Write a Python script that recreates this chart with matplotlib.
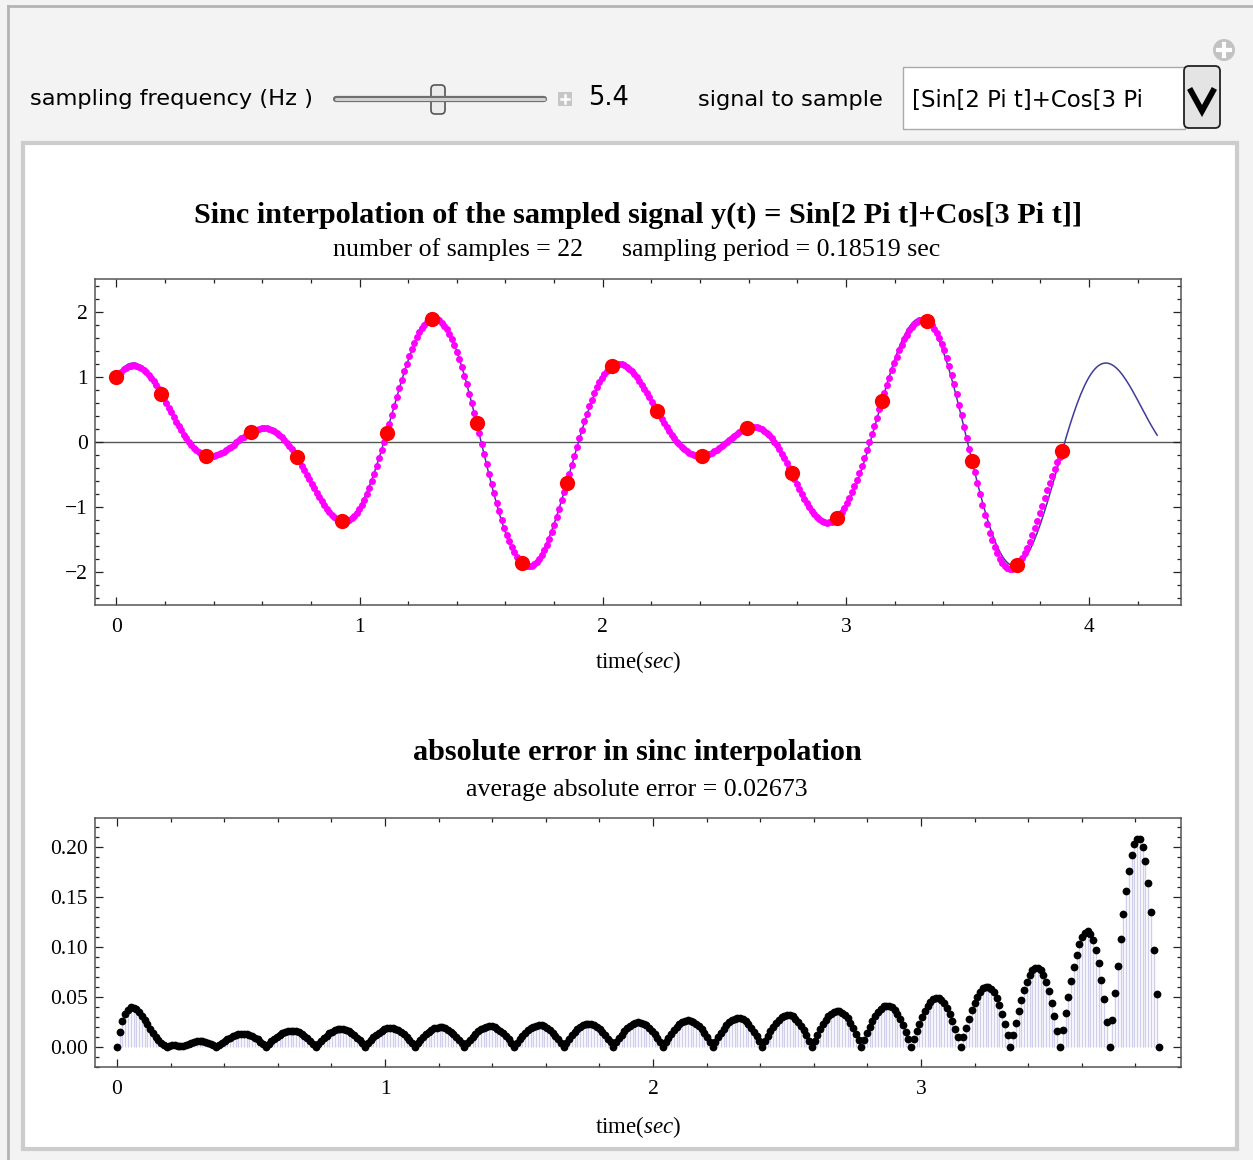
"""Sinc interpolation demo panel: sampled signal, its sinc reconstruction and
the absolute reconstruction error. Saves out.png.
"""

import matplotlib

matplotlib.use("Agg")
import matplotlib.pyplot as plt
import numpy as np
from matplotlib.patches import Circle, FancyBboxPatch, Rectangle
from matplotlib.ticker import MultipleLocator

plt.rcParams["mathtext.fontset"] = "custom"
plt.rcParams["mathtext.it"] = "Liberation Serif:italic"
plt.rcParams["mathtext.rm"] = "Liberation Serif"

W, H = 1253, 1160

# panel settings shown in the controls / titles
SAMPLING_HZ = 5.4
N_SAMPLES = 22
SIGNAL_LABEL = "Sin[2 Pi t]+Cos[3 Pi t]"
SIGNAL_MENU_TEXT = "[Sin[2 Pi t]+Cos[3 Pi"
AVG_ABS_ERROR = 0.02673  # as printed under the error plot
T_END = 4.28             # true signal is drawn on [0, T_END]
DOTS_PER_PERIOD = 18     # evaluation points of the reconstruction per sampling period

TOP_YTICKS = [-2, -1, 0, 1, 2]
TOP_XTICKS = [0, 1, 2, 3, 4]
BOT_YTICKS = [0.00, 0.05, 0.10, 0.15, 0.20]
BOT_XTICKS = [0, 1, 2, 3]

SERIF = "Liberation Serif"
SANS = "DejaVu Sans"


def signal(t):
    # y(t) = Sin[2 Pi t] + Cos[3 Pi t], as given in the chart title
    return np.sin(2 * np.pi * t) + np.cos(3 * np.pi * t)


period = 1.0 / SAMPLING_HZ
t_samp = np.arange(N_SAMPLES) * period
y_samp = signal(t_samp)

t_dots = np.arange(0, (N_SAMPLES - 1) * DOTS_PER_PERIOD + 1) * period / DOTS_PER_PERIOD
y_interp = (y_samp[None, :] * np.sinc((t_dots[:, None] - t_samp[None, :]) / period)).sum(axis=1)
abs_err = np.abs(signal(t_dots) - y_interp)

t_true = np.linspace(0, T_END, 600)
y_true = signal(t_true)


def px_axes(fig, left, top, right, bottom):
    return fig.add_axes([left / W, 1 - bottom / H, (right - left) / W, (bottom - top) / H])


def style_frame(ax, xmajor, xminor, ymajor, yminor):
    ax.xaxis.set_major_locator(MultipleLocator(xmajor))
    ax.xaxis.set_minor_locator(MultipleLocator(xminor))
    ax.yaxis.set_major_locator(MultipleLocator(ymajor))
    ax.yaxis.set_minor_locator(MultipleLocator(yminor))
    ax.tick_params(which="both", direction="in", top=True, right=True, color="#222222",
                   labelsize=15.5, width=0.9)
    ax.tick_params(which="major", length=5.5)
    ax.tick_params(which="minor", length=3)
    ax.tick_params(axis="x", pad=9)
    ax.tick_params(axis="y", pad=5)
    for sp in ax.spines.values():
        sp.set_color("#555555")
        sp.set_linewidth(1.1)


fig = plt.figure(figsize=(W / 100, H / 100), dpi=100)
fig.patch.set_facecolor("#f3f3f3")

# ---- control bar + panel frame, drawn in pixel coordinates ----
ui = fig.add_axes([0, 0, 1, 1], zorder=-5)
ui.set_xlim(0, W)
ui.set_ylim(H, 0)
ui.axis("off")
ui.plot([8, W], [6, 6], color="#b4b4b4", lw=2)
ui.plot([8, 8], [6, H], color="#b4b4b4", lw=2)
ui.add_patch(Rectangle((23, 143), 1214, 1006, facecolor="white", edgecolor="#cccccc", lw=3))

ui.text(30, 99, "sampling frequency (Hz )", family=SANS, fontsize=16.2, va="center", ha="left")
ui.plot([336, 544], [99, 99], color="#6e6e6e", lw=4.5, solid_capstyle="round")
ui.plot([336, 544], [99, 99], color="#d0d0d0", lw=2.2, solid_capstyle="round")
ui.add_patch(FancyBboxPatch((431, 85), 14, 29, boxstyle="round,pad=0,rounding_size=4",
                            facecolor="#ececec", edgecolor="#555555", lw=1.2))
ui.add_patch(Rectangle((558, 92), 14, 14, facecolor="#c6c6c6", edgecolor="none"))
ui.plot([561, 569], [99, 99], color="white", lw=1.8)
ui.plot([565, 565], [95, 103], color="white", lw=1.8)
ui.text(588, 98, f"{SAMPLING_HZ}", family=SANS, fontsize=18.5, va="center", ha="left")

ui.text(698, 100, "signal to sample", family=SANS, fontsize=16.2, va="center", ha="left")
ui.add_patch(Rectangle((903, 67), 282, 62, facecolor="white", edgecolor="#aaaaaa", lw=1))
ui.text(912, 100, SIGNAL_MENU_TEXT, family=SANS, fontsize=16.5, va="center", ha="left")
ui.add_patch(FancyBboxPatch((1184, 66), 36, 62, boxstyle="round,pad=0,rounding_size=5",
                            facecolor="#e4e4e4", edgecolor="#222222", lw=1.3))
ui.plot([1191, 1202, 1213], [91, 111, 91], color="black", lw=4.2, solid_joinstyle="miter")
ui.add_patch(Circle((1224, 50), 11, facecolor="#c2c2c2", edgecolor="none"))
ui.plot([1218, 1230], [50, 50], color="white", lw=3)
ui.plot([1224, 1224], [44, 56], color="white", lw=3)

# ---- top plot: samples, sinc reconstruction, true signal ----
ax1 = px_axes(fig, 95, 279, 1181, 605)
ax1.axhline(0, color="#555555", lw=1, zorder=1)
ax1.plot(t_true, y_true, color="#3d3d99", lw=1.1, zorder=2)
ax1.plot(t_dots, y_interp, "o", color="#ff00ff", ms=5, mec="none", zorder=3)
ax1.plot(t_samp, y_samp, "o", color="#ff0000", ms=11, mec="none", zorder=4)
ax1.set_xlim(-0.088, 4.378)
ax1.set_ylim(-2.51, 2.51)
style_frame(ax1, 1, 0.2, 1, 0.2)
ax1.set_xticks(TOP_XTICKS)
ax1.set_yticks(TOP_YTICKS)
ax1.set_xticklabels([str(v) for v in TOP_XTICKS], fontfamily=SERIF)
ax1.set_yticklabels([str(v).replace("-", "\u2212") for v in TOP_YTICKS], fontfamily=SERIF)

fig.text(638 / W, 1 - 215 / H,
         f"Sinc interpolation of the sampled signal y(t) = {SIGNAL_LABEL}]",
         family=SERIF, weight="bold", fontsize=21.8, ha="center", va="center")
fig.text(637 / W, 1 - 250 / H,
         f"number of samples = {N_SAMPLES}      sampling period = {period:.5f} sec",
         family=SERIF, fontsize=18.6, ha="center", va="center")
fig.text(638 / W, 1 - 662 / H, "time($\\mathit{sec}$)", family=SERIF, fontsize=16.5,
         ha="center", va="center")

# ---- bottom plot: absolute error ----
ax2 = px_axes(fig, 95, 818, 1181, 1067)
ax2.vlines(t_dots, 0, abs_err, color="#cfcfec", lw=1.0, zorder=1)
ax2.plot(t_dots, abs_err, "o", color="black", ms=5.6, mec="none", zorder=3)
ax2.set_xlim(-0.082, 3.97)
ax2.set_ylim(-0.0205, 0.229)
style_frame(ax2, 1, 0.2, 0.05, 0.01)
ax2.set_xticks(BOT_XTICKS)
ax2.set_yticks(BOT_YTICKS)
ax2.set_xticklabels([str(v) for v in BOT_XTICKS], fontfamily=SERIF)
ax2.set_yticklabels([f"{v:.2f}" for v in BOT_YTICKS], fontfamily=SERIF)

fig.text(637 / W, 1 - 753 / H, "absolute error in sinc interpolation",
         family=SERIF, weight="bold", fontsize=21.8, ha="center", va="center")
fig.text(637 / W, 1 - 790 / H, f"average absolute error = {AVG_ABS_ERROR:.5f}",
         family=SERIF, fontsize=18.6, ha="center", va="center")
fig.text(638 / W, 1 - 1127 / H, "time($\\mathit{sec}$)", family=SERIF, fontsize=16.5,
         ha="center", va="center")

fig.savefig("out.png", dpi=100, facecolor=fig.get_facecolor())
print(f"mean abs error = {abs_err.mean():.5f}, max = {abs_err.max():.4f}")
